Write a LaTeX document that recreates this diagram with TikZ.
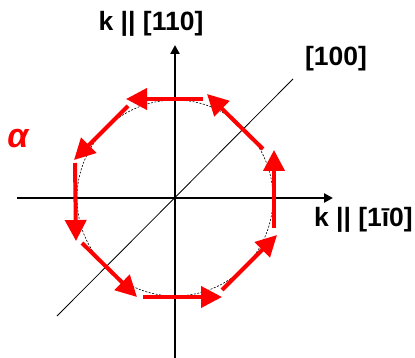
\documentclass[tikz,border=0pt]{standalone}
\usepackage{fontspec}
\setmainfont{Liberation Sans}
\usetikzlibrary{arrows.meta}
\tikzset{
  axis/.style={line width=2.6pt,-{Triangle[length=9pt,width=9pt]}},
  spin/.style={draw=red,line width=4pt,-{Triangle[length=21pt,width=21pt]}, shorten >=0pt},
  lbl/.style={font=\bfseries\fontsize{26.5}{30}\selectfont, inner sep=0pt}
}
\begin{document}
\begin{tikzpicture}[x=1pt,y=-1pt]
\useasboundingbox (0,0) rectangle (415,358);
\coordinate (O) at (175,198);
% dashed circle
\draw[dashed, line width=0.6pt, dash pattern=on 2pt off 1.5pt] (O) circle[radius=98];
% diagonal [100]
\coordinate (d1) at (57,316);
\coordinate (d2) at (293,79);
\draw[line width=0.8pt] (d1) -- (d2);
% axes
\coordinate (xl) at (17,198);
\coordinate (xr) at (333,198);
\coordinate (yb) at (175,358);
\coordinate (yt) at (175,45);
\draw[axis] (xl) -- (xr);
\draw[axis] (yb) -- (yt);
% red arrows
\coordinate (a1) at (203,99);  \coordinate (b1) at (126,99);
\coordinate (a2) at (128,106); \coordinate (b2) at (74,160);
\coordinate (a3) at (75,163);  \coordinate (b3) at (76,241);
\coordinate (a4) at (82,243);  \coordinate (b4) at (137,297);
\coordinate (a5) at (143,297); \coordinate (b5) at (222,297);
\coordinate (a6) at (222,290); \coordinate (b6) at (277,235);
\coordinate (a7) at (274,228); \coordinate (b7) at (274,150);
\coordinate (a8) at (263,149); \coordinate (b8) at (207,94);
\foreach \i in {1,...,8} \draw[spin] (a\i) -- (b\i);
% labels
\node[lbl] (ly) at (151,24) {k || [110]};
\node[lbl] (ld) at (336,59) {[100]};
\node[lbl, anchor=east] (lx) at (413,220) {k || [1ī0]};
\node[lbl, text=red, font=\bfseries\itshape\fontsize{34}{36}\selectfont] (la) at (18,139) {α};
\end{tikzpicture}
\end{document}
